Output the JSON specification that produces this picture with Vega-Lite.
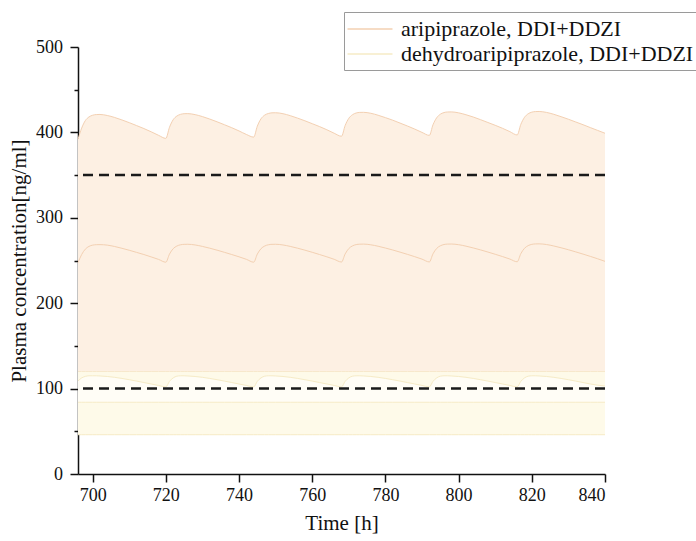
{
  "$schema": "https://vega.github.io/schema/vega-lite/v6.json",
  "autosize": {"type": "none"},
  "padding": {"left": 78, "top": 47, "right": 91, "bottom": 67},
  "width": 527,
  "height": 427,
  "background": "white",
  "config": {
    "view": {"stroke": null},
    "font": "Liberation Serif",
    "axis": {
      "domainColor": "#111", "domainWidth": 1.5, "tickColor": "#111", "tickWidth": 1.5,
      "labelFont": "Liberation Serif", "labelFontSize": 18, "labelColor": "#111",
      "titleFont": "Liberation Serif", "titleFontSize": 21, "titleFontWeight": "normal", "titleColor": "#111",
      "grid": false
    },
    "legend": {"labelFont": "Liberation Serif", "labelFontSize": 22, "labelColor": "#111"}
  },
  "datasets": {
    "main": [
      {"t": 696, "ari_hi": 392, "ari_lo": 247.5, "deh_hi": 109, "ari_base": 120, "deh_top": 120, "deh_mid": 84, "deh_low": 46},
      {"t": 697, "ari_hi": 405, "ari_lo": 257, "deh_hi": 112.5, "ari_base": 120, "deh_top": 120, "deh_mid": 84, "deh_low": 46},
      {"t": 698, "ari_hi": 413.8, "ari_lo": 263.3, "deh_hi": 114.3, "ari_base": 120, "deh_top": 120, "deh_mid": 84, "deh_low": 46},
      {"t": 699, "ari_hi": 418.1, "ari_lo": 266.5, "deh_hi": 115, "ari_base": 120, "deh_top": 120, "deh_mid": 84, "deh_low": 46},
      {"t": 700, "ari_hi": 420.1, "ari_lo": 268, "deh_hi": 115, "ari_base": 120, "deh_top": 120, "deh_mid": 84, "deh_low": 46},
      {"t": 701, "ari_hi": 420.9, "ari_lo": 268.5, "deh_hi": 115, "ari_base": 120, "deh_top": 120, "deh_mid": 84, "deh_low": 46},
      {"t": 702, "ari_hi": 421, "ari_lo": 268.6, "deh_hi": 114.8, "ari_base": 120, "deh_top": 120, "deh_mid": 84, "deh_low": 46},
      {"t": 704, "ari_hi": 419.8, "ari_lo": 268, "deh_hi": 114.2, "ari_base": 120, "deh_top": 120, "deh_mid": 84, "deh_low": 46},
      {"t": 706, "ari_hi": 417.5, "ari_lo": 266.4, "deh_hi": 113.2, "ari_base": 120, "deh_top": 120, "deh_mid": 84, "deh_low": 46},
      {"t": 708, "ari_hi": 414.6, "ari_lo": 264.3, "deh_hi": 111.9, "ari_base": 120, "deh_top": 120, "deh_mid": 84, "deh_low": 46},
      {"t": 710, "ari_hi": 411.4, "ari_lo": 262, "deh_hi": 110.4, "ari_base": 120, "deh_top": 120, "deh_mid": 84, "deh_low": 46},
      {"t": 712, "ari_hi": 408, "ari_lo": 259.5, "deh_hi": 108.8, "ari_base": 120, "deh_top": 120, "deh_mid": 84, "deh_low": 46},
      {"t": 714, "ari_hi": 404.5, "ari_lo": 257, "deh_hi": 107.1, "ari_base": 120, "deh_top": 120, "deh_mid": 84, "deh_low": 46},
      {"t": 716, "ari_hi": 400.7, "ari_lo": 254.2, "deh_hi": 105.4, "ari_base": 120, "deh_top": 120, "deh_mid": 84, "deh_low": 46},
      {"t": 718, "ari_hi": 396.6, "ari_lo": 251.3, "deh_hi": 103.7, "ari_base": 120, "deh_top": 120, "deh_mid": 84, "deh_low": 46},
      {"t": 720, "ari_hi": 393, "ari_lo": 248, "deh_hi": 102, "ari_base": 120, "deh_top": 120, "deh_mid": 84, "deh_low": 46},
      {"t": 721, "ari_hi": 406, "ari_lo": 257.5, "deh_hi": 108.5, "ari_base": 120, "deh_top": 120, "deh_mid": 84, "deh_low": 46},
      {"t": 722, "ari_hi": 414.8, "ari_lo": 263.8, "deh_hi": 112.5, "ari_base": 120, "deh_top": 120, "deh_mid": 84, "deh_low": 46},
      {"t": 723, "ari_hi": 419.1, "ari_lo": 266.9, "deh_hi": 114.5, "ari_base": 120, "deh_top": 120, "deh_mid": 84, "deh_low": 46},
      {"t": 724, "ari_hi": 421.1, "ari_lo": 268.4, "deh_hi": 115, "ari_base": 120, "deh_top": 120, "deh_mid": 84, "deh_low": 46},
      {"t": 725, "ari_hi": 421.9, "ari_lo": 268.9, "deh_hi": 115, "ari_base": 120, "deh_top": 120, "deh_mid": 84, "deh_low": 46},
      {"t": 726, "ari_hi": 422, "ari_lo": 269, "deh_hi": 114.8, "ari_base": 120, "deh_top": 120, "deh_mid": 84, "deh_low": 46},
      {"t": 728, "ari_hi": 420.8, "ari_lo": 268.2, "deh_hi": 114.2, "ari_base": 120, "deh_top": 120, "deh_mid": 84, "deh_low": 46},
      {"t": 730, "ari_hi": 418.5, "ari_lo": 266.5, "deh_hi": 113.2, "ari_base": 120, "deh_top": 120, "deh_mid": 84, "deh_low": 46},
      {"t": 732, "ari_hi": 415.6, "ari_lo": 264.4, "deh_hi": 111.9, "ari_base": 120, "deh_top": 120, "deh_mid": 84, "deh_low": 46},
      {"t": 734, "ari_hi": 412.4, "ari_lo": 262.1, "deh_hi": 110.4, "ari_base": 120, "deh_top": 120, "deh_mid": 84, "deh_low": 46},
      {"t": 736, "ari_hi": 409, "ari_lo": 259.6, "deh_hi": 108.8, "ari_base": 120, "deh_top": 120, "deh_mid": 84, "deh_low": 46},
      {"t": 738, "ari_hi": 405.5, "ari_lo": 257, "deh_hi": 107.1, "ari_base": 120, "deh_top": 120, "deh_mid": 84, "deh_low": 46},
      {"t": 740, "ari_hi": 401.7, "ari_lo": 254.3, "deh_hi": 105.4, "ari_base": 120, "deh_top": 120, "deh_mid": 84, "deh_low": 46},
      {"t": 742, "ari_hi": 397.6, "ari_lo": 251.4, "deh_hi": 103.7, "ari_base": 120, "deh_top": 120, "deh_mid": 84, "deh_low": 46},
      {"t": 744, "ari_hi": 394.5, "ari_lo": 248, "deh_hi": 102, "ari_base": 120, "deh_top": 120, "deh_mid": 84, "deh_low": 46},
      {"t": 745, "ari_hi": 407.3, "ari_lo": 257.5, "deh_hi": 108.5, "ari_base": 120, "deh_top": 120, "deh_mid": 84, "deh_low": 46},
      {"t": 746, "ari_hi": 415.9, "ari_lo": 263.8, "deh_hi": 112.5, "ari_base": 120, "deh_top": 120, "deh_mid": 84, "deh_low": 46},
      {"t": 747, "ari_hi": 420.2, "ari_lo": 266.9, "deh_hi": 114.5, "ari_base": 120, "deh_top": 120, "deh_mid": 84, "deh_low": 46},
      {"t": 748, "ari_hi": 422.1, "ari_lo": 268.4, "deh_hi": 115, "ari_base": 120, "deh_top": 120, "deh_mid": 84, "deh_low": 46},
      {"t": 749, "ari_hi": 422.9, "ari_lo": 268.9, "deh_hi": 115, "ari_base": 120, "deh_top": 120, "deh_mid": 84, "deh_low": 46},
      {"t": 750, "ari_hi": 423, "ari_lo": 269, "deh_hi": 114.8, "ari_base": 120, "deh_top": 120, "deh_mid": 84, "deh_low": 46},
      {"t": 752, "ari_hi": 421.9, "ari_lo": 268.2, "deh_hi": 114.2, "ari_base": 120, "deh_top": 120, "deh_mid": 84, "deh_low": 46},
      {"t": 754, "ari_hi": 419.6, "ari_lo": 266.5, "deh_hi": 113.2, "ari_base": 120, "deh_top": 120, "deh_mid": 84, "deh_low": 46},
      {"t": 756, "ari_hi": 416.7, "ari_lo": 264.4, "deh_hi": 111.9, "ari_base": 120, "deh_top": 120, "deh_mid": 84, "deh_low": 46},
      {"t": 758, "ari_hi": 413.6, "ari_lo": 262.1, "deh_hi": 110.4, "ari_base": 120, "deh_top": 120, "deh_mid": 84, "deh_low": 46},
      {"t": 760, "ari_hi": 410.2, "ari_lo": 259.6, "deh_hi": 108.8, "ari_base": 120, "deh_top": 120, "deh_mid": 84, "deh_low": 46},
      {"t": 762, "ari_hi": 406.8, "ari_lo": 257, "deh_hi": 107.1, "ari_base": 120, "deh_top": 120, "deh_mid": 84, "deh_low": 46},
      {"t": 764, "ari_hi": 403.1, "ari_lo": 254.3, "deh_hi": 105.4, "ari_base": 120, "deh_top": 120, "deh_mid": 84, "deh_low": 46},
      {"t": 766, "ari_hi": 399, "ari_lo": 251.4, "deh_hi": 103.7, "ari_base": 120, "deh_top": 120, "deh_mid": 84, "deh_low": 46},
      {"t": 768, "ari_hi": 395.5, "ari_lo": 248.2, "deh_hi": 102, "ari_base": 120, "deh_top": 120, "deh_mid": 84, "deh_low": 46},
      {"t": 769, "ari_hi": 408.1, "ari_lo": 257.7, "deh_hi": 108.5, "ari_base": 120, "deh_top": 120, "deh_mid": 84, "deh_low": 46},
      {"t": 770, "ari_hi": 416.5, "ari_lo": 264, "deh_hi": 112.5, "ari_base": 120, "deh_top": 120, "deh_mid": 84, "deh_low": 46},
      {"t": 771, "ari_hi": 420.7, "ari_lo": 267.1, "deh_hi": 114.5, "ari_base": 120, "deh_top": 120, "deh_mid": 84, "deh_low": 46},
      {"t": 772, "ari_hi": 422.7, "ari_lo": 268.6, "deh_hi": 115, "ari_base": 120, "deh_top": 120, "deh_mid": 84, "deh_low": 46},
      {"t": 773, "ari_hi": 423.4, "ari_lo": 269.1, "deh_hi": 115, "ari_base": 120, "deh_top": 120, "deh_mid": 84, "deh_low": 46},
      {"t": 774, "ari_hi": 423.5, "ari_lo": 269.2, "deh_hi": 114.8, "ari_base": 120, "deh_top": 120, "deh_mid": 84, "deh_low": 46},
      {"t": 776, "ari_hi": 422.4, "ari_lo": 268.4, "deh_hi": 114.2, "ari_base": 120, "deh_top": 120, "deh_mid": 84, "deh_low": 46},
      {"t": 778, "ari_hi": 420.1, "ari_lo": 266.7, "deh_hi": 113.2, "ari_base": 120, "deh_top": 120, "deh_mid": 84, "deh_low": 46},
      {"t": 780, "ari_hi": 417.3, "ari_lo": 264.6, "deh_hi": 111.9, "ari_base": 120, "deh_top": 120, "deh_mid": 84, "deh_low": 46},
      {"t": 782, "ari_hi": 414.3, "ari_lo": 262.3, "deh_hi": 110.4, "ari_base": 120, "deh_top": 120, "deh_mid": 84, "deh_low": 46},
      {"t": 784, "ari_hi": 410.9, "ari_lo": 259.8, "deh_hi": 108.8, "ari_base": 120, "deh_top": 120, "deh_mid": 84, "deh_low": 46},
      {"t": 786, "ari_hi": 407.5, "ari_lo": 257.2, "deh_hi": 107.1, "ari_base": 120, "deh_top": 120, "deh_mid": 84, "deh_low": 46},
      {"t": 788, "ari_hi": 403.9, "ari_lo": 254.5, "deh_hi": 105.4, "ari_base": 120, "deh_top": 120, "deh_mid": 84, "deh_low": 46},
      {"t": 790, "ari_hi": 400, "ari_lo": 251.6, "deh_hi": 103.7, "ari_base": 120, "deh_top": 120, "deh_mid": 84, "deh_low": 46},
      {"t": 792, "ari_hi": 396.5, "ari_lo": 248.3, "deh_hi": 102, "ari_base": 120, "deh_top": 120, "deh_mid": 84, "deh_low": 46},
      {"t": 793, "ari_hi": 408.9, "ari_lo": 257.8, "deh_hi": 108.5, "ari_base": 120, "deh_top": 120, "deh_mid": 84, "deh_low": 46},
      {"t": 794, "ari_hi": 417.1, "ari_lo": 264.1, "deh_hi": 112.5, "ari_base": 120, "deh_top": 120, "deh_mid": 84, "deh_low": 46},
      {"t": 795, "ari_hi": 421.3, "ari_lo": 267.2, "deh_hi": 114.5, "ari_base": 120, "deh_top": 120, "deh_mid": 84, "deh_low": 46},
      {"t": 796, "ari_hi": 423.2, "ari_lo": 268.7, "deh_hi": 115, "ari_base": 120, "deh_top": 120, "deh_mid": 84, "deh_low": 46},
      {"t": 797, "ari_hi": 423.9, "ari_lo": 269.2, "deh_hi": 115, "ari_base": 120, "deh_top": 120, "deh_mid": 84, "deh_low": 46},
      {"t": 798, "ari_hi": 424, "ari_lo": 269.3, "deh_hi": 114.8, "ari_base": 120, "deh_top": 120, "deh_mid": 84, "deh_low": 46},
      {"t": 800, "ari_hi": 422.9, "ari_lo": 268.5, "deh_hi": 114.2, "ari_base": 120, "deh_top": 120, "deh_mid": 84, "deh_low": 46},
      {"t": 802, "ari_hi": 420.7, "ari_lo": 266.8, "deh_hi": 113.2, "ari_base": 120, "deh_top": 120, "deh_mid": 84, "deh_low": 46},
      {"t": 804, "ari_hi": 418, "ari_lo": 264.7, "deh_hi": 111.9, "ari_base": 120, "deh_top": 120, "deh_mid": 84, "deh_low": 46},
      {"t": 806, "ari_hi": 414.9, "ari_lo": 262.4, "deh_hi": 110.4, "ari_base": 120, "deh_top": 120, "deh_mid": 84, "deh_low": 46},
      {"t": 808, "ari_hi": 411.6, "ari_lo": 259.9, "deh_hi": 108.8, "ari_base": 120, "deh_top": 120, "deh_mid": 84, "deh_low": 46},
      {"t": 810, "ari_hi": 408.3, "ari_lo": 257.3, "deh_hi": 107.1, "ari_base": 120, "deh_top": 120, "deh_mid": 84, "deh_low": 46},
      {"t": 812, "ari_hi": 404.8, "ari_lo": 254.6, "deh_hi": 105.4, "ari_base": 120, "deh_top": 120, "deh_mid": 84, "deh_low": 46},
      {"t": 814, "ari_hi": 400.9, "ari_lo": 251.7, "deh_hi": 103.7, "ari_base": 120, "deh_top": 120, "deh_mid": 84, "deh_low": 46},
      {"t": 816, "ari_hi": 397, "ari_lo": 248.5, "deh_hi": 102, "ari_base": 120, "deh_top": 120, "deh_mid": 84, "deh_low": 46},
      {"t": 817, "ari_hi": 409.4, "ari_lo": 258, "deh_hi": 108.5, "ari_base": 120, "deh_top": 120, "deh_mid": 84, "deh_low": 46},
      {"t": 818, "ari_hi": 417.6, "ari_lo": 264.3, "deh_hi": 112.5, "ari_base": 120, "deh_top": 120, "deh_mid": 84, "deh_low": 46},
      {"t": 819, "ari_hi": 421.8, "ari_lo": 267.4, "deh_hi": 114.5, "ari_base": 120, "deh_top": 120, "deh_mid": 84, "deh_low": 46},
      {"t": 820, "ari_hi": 423.7, "ari_lo": 268.9, "deh_hi": 115, "ari_base": 120, "deh_top": 120, "deh_mid": 84, "deh_low": 46},
      {"t": 821, "ari_hi": 424.4, "ari_lo": 269.4, "deh_hi": 115, "ari_base": 120, "deh_top": 120, "deh_mid": 84, "deh_low": 46},
      {"t": 822, "ari_hi": 424.5, "ari_lo": 269.5, "deh_hi": 114.8, "ari_base": 120, "deh_top": 120, "deh_mid": 84, "deh_low": 46},
      {"t": 824, "ari_hi": 423.4, "ari_lo": 268.7, "deh_hi": 114.2, "ari_base": 120, "deh_top": 120, "deh_mid": 84, "deh_low": 46},
      {"t": 826, "ari_hi": 421.2, "ari_lo": 267, "deh_hi": 113.2, "ari_base": 120, "deh_top": 120, "deh_mid": 84, "deh_low": 46},
      {"t": 828, "ari_hi": 418.4, "ari_lo": 264.9, "deh_hi": 111.9, "ari_base": 120, "deh_top": 120, "deh_mid": 84, "deh_low": 46},
      {"t": 830, "ari_hi": 415.4, "ari_lo": 262.6, "deh_hi": 110.4, "ari_base": 120, "deh_top": 120, "deh_mid": 84, "deh_low": 46},
      {"t": 832, "ari_hi": 412.2, "ari_lo": 260.1, "deh_hi": 108.8, "ari_base": 120, "deh_top": 120, "deh_mid": 84, "deh_low": 46},
      {"t": 834, "ari_hi": 409, "ari_lo": 257.5, "deh_hi": 107.1, "ari_base": 120, "deh_top": 120, "deh_mid": 84, "deh_low": 46},
      {"t": 836, "ari_hi": 405.6, "ari_lo": 254.8, "deh_hi": 105.4, "ari_base": 120, "deh_top": 120, "deh_mid": 84, "deh_low": 46},
      {"t": 838, "ari_hi": 402.3, "ari_lo": 252, "deh_hi": 104, "ari_base": 120, "deh_top": 120, "deh_mid": 84, "deh_low": 46},
      {"t": 840, "ari_hi": 399, "ari_lo": 249, "deh_hi": 103, "ari_base": 120, "deh_top": 120, "deh_mid": 84, "deh_low": 46}
    ],
    "thresholds": [{"level": 350}, {"level": 100}]
  },
  "data": {"name": "main"},
  "layer": [
    {
      "mark": {"type": "area", "color": "#fdf0e3", "interpolate": "monotone", "opacity": 1},
      "encoding": {
        "x": {
          "field": "t", "type": "quantitative",
          "scale": {"domain": [696, 840], "nice": false, "zero": false},
          "axis": {
            "title": "Time [h]", "orient": "bottom",
            "values": [700, 710, 720, 730, 740, 750, 760, 770, 780, 790, 800, 810, 820, 830, 840],
            "labelExpr": "datum.value % 20 === 0 ? datum.label : ''",
            "tickSize": {"condition": {"test": "datum.value % 20 === 0", "value": 8}, "value": 4},
            "labelPadding": 4, "titlePadding": 8
          }
        },
        "y": {
          "field": "ari_hi", "type": "quantitative",
          "scale": {"domain": [0, 500], "nice": false},
          "axis": {
            "title": "Plasma concentration[ng/ml]", "orient": "left",
            "values": [0, 50, 100, 150, 200, 250, 300, 350, 400, 450, 500],
            "labelExpr": "datum.value % 100 === 0 ? datum.label : ''",
            "tickSize": {"condition": {"test": "datum.value % 100 === 0", "value": 8}, "value": 4},
            "labelPadding": 7.5, "titlePadding": 6
          }
        },
        "y2": {"field": "ari_base"}
      }
    },
    {
      "mark": {"type": "area", "color": "#fefae9", "interpolate": "monotone"},
      "encoding": {
        "x": {"field": "t", "type": "quantitative"},
        "y": {"field": "deh_top", "type": "quantitative"},
        "y2": {"field": "deh_low"}
      }
    },
    {
      "mark": {"type": "area", "color": "#fffdf6", "interpolate": "monotone"},
      "encoding": {
        "x": {"field": "t", "type": "quantitative"},
        "y": {"field": "deh_hi", "type": "quantitative"},
        "y2": {"field": "deh_mid"}
      }
    },
    {
      "mark": {"type": "line", "strokeWidth": 1, "interpolate": "monotone"},
      "encoding": {
        "x": {"field": "t", "type": "quantitative"},
        "y": {"field": "ari_hi", "type": "quantitative"},
        "color": {
          "datum": "aripiprazole, DDI+DDZI",
          "scale": {"domain": ["aripiprazole, DDI+DDZI", "dehydroaripiprazole, DDI+DDZI"], "range": ["#f3d0b2", "#f6ebc6"]},
          "legend": {
            "title": null, "orient": "none", "legendX": 266, "legendY": -35,
            "symbolType": "M-2,0H2", "symbolSize": 506, "symbolStrokeWidth": 1.5,
            "symbolOffset": 9, "labelOffset": 19, "labelLimit": 500, "rowPadding": 2,
            "strokeColor": "#9a9a9a", "fillColor": "white", "padding": 5
          }
        }
      }
    },
    {
      "mark": {"type": "line", "strokeWidth": 1, "interpolate": "monotone"},
      "encoding": {
        "x": {"field": "t", "type": "quantitative"},
        "y": {"field": "ari_lo", "type": "quantitative"},
        "color": {"datum": "aripiprazole, DDI+DDZI"}
      }
    },
    {
      "mark": {"type": "line", "strokeWidth": 1, "color": "#f7e8cc"},
      "encoding": {
        "x": {"field": "t", "type": "quantitative"},
        "y": {"field": "ari_base", "type": "quantitative"}
      }
    },
    {
      "mark": {"type": "line", "strokeWidth": 1, "interpolate": "monotone"},
      "encoding": {
        "x": {"field": "t", "type": "quantitative"},
        "y": {"field": "deh_hi", "type": "quantitative"},
        "color": {"datum": "dehydroaripiprazole, DDI+DDZI"}
      }
    },
    {
      "mark": {"type": "line", "strokeWidth": 1},
      "encoding": {
        "x": {"field": "t", "type": "quantitative"},
        "y": {"field": "deh_mid", "type": "quantitative"},
        "color": {"datum": "dehydroaripiprazole, DDI+DDZI"}
      }
    },
    {
      "mark": {"type": "line", "strokeWidth": 1},
      "encoding": {
        "x": {"field": "t", "type": "quantitative"},
        "y": {"field": "deh_low", "type": "quantitative"},
        "color": {"datum": "dehydroaripiprazole, DDI+DDZI"}
      }
    },
    {
      "data": {"name": "thresholds"},
      "mark": {"type": "rule", "color": "#1a1a1a", "strokeWidth": 2.5, "strokeDash": [10, 6]},
      "encoding": {
        "y": {"field": "level", "type": "quantitative"}
      }
    }
  ]
}
